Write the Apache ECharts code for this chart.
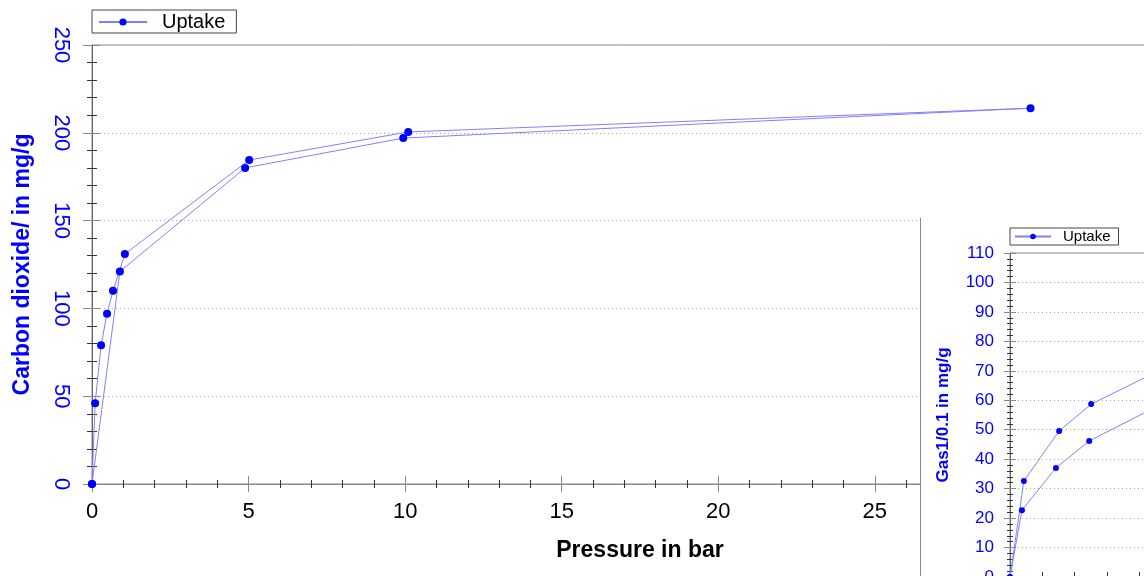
<!DOCTYPE html>
<html><head><meta charset="utf-8">
<script src="https://cdn.jsdelivr.net/npm/echarts@6/dist/echarts.min.js"></script>
<style>html,body{margin:0;padding:0;background:#fff}#c{width:1144px;height:576px}</style>
</head><body><div id="c"></div>
<script>
// ---- data ----
const seriesName = 'Uptake';
const mainPressure = [0, 0.1, 0.29, 0.48, 0.67, 1.05, 5.02, 10.1, 29.97, 9.94, 4.89, 0.89, 0];
const mainUptake   = [0, 46, 79, 97, 110, 131, 184.5, 200.5, 214, 197, 180, 121, 0];
const insetX = [0, 0.37, 1.42, 2.45, 4.6, 4.6, 2.51, 1.52, 0.43, 0];
const insetY = [0, 22.7, 37, 46.2, 58.2, 70, 58.7, 49.6, 32.6, 0];
const mainXTitle = 'Pressure in bar';
const mainYTitle = 'Carbon dioxide/ in mg/g';
const insetYTitle = 'Gas1/0.1 in mg/g';

const FONT = 'Liberation Sans, Arial, sans-serif';
const LINE = '#8080ff', DOT = '#0000ff', BLUE = '#0000ff';
const mainData = mainPressure.map((p, i) => [p, mainUptake[i]]);
const insetData = insetX.map((p, i) => [p, insetY[i]]);

const chart = echarts.init(document.getElementById('c'), null, {renderer: 'canvas'});
const tickCommon = (len, inside, minorLen) => ({
  axisTick: {show: true, inside, length: len, lineStyle: {color: '#888', width: 1}},
  minorTick: {show: true, splitNumber: 5, length: minorLen, lineStyle: {color: '#333', width: 1}}
});
const Z = 60;
chart.setOption({
  animation: false,
  textStyle: {fontFamily: FONT},
  graphic: [
    {type: 'rect', z: 50, shape: {x: 921, y: 218, width: 223, height: 358}, style: {fill: '#fff'}},
    {type: 'line', z: 51, shape: {x1: 920.5, y1: 218, x2: 920.5, y2: 576}, style: {stroke: '#888', lineWidth: 1}}
  ],
  legend: [
    {data: [seriesName], left: 92, top: 10, orient: 'horizontal', itemWidth: 48, itemHeight: 9,
     borderColor: '#444', borderWidth: 1, borderRadius: 0, padding: [2, 11, 1, 6], backgroundColor: '#fff',
     textStyle: {fontSize: 20, color: '#000', fontFamily: FONT, padding: [0, 0, 0, 10]}},
    {data: [seriesName], left: 1010, top: 228, orient: 'horizontal', itemWidth: 36, itemHeight: 7, z: Z,
     borderColor: '#444', borderWidth: 1, borderRadius: 0, padding: [1, 8, 1, 4], backgroundColor: '#fff',
     textStyle: {fontSize: 15, color: '#000', fontFamily: FONT, padding: [0, 0, 0, 7]}}
  ],
  grid: [
    {left: 92, top: 45, width: 1096, height: 439, show: true, borderColor: '#888', borderWidth: 1,
     backgroundColor: 'transparent', outerBoundsMode: 'none', containLabel: false},
    {left: 1010, top: 253, width: 194, height: 324, show: true, borderColor: '#888', borderWidth: 1,
     backgroundColor: 'transparent', z: Z, outerBoundsMode: 'none', containLabel: false}
  ],
  xAxis: [
    Object.assign({type: 'value', gridIndex: 0, position: 'bottom', min: 0, max: 35, interval: 5,
      axisLine: {show: true, lineStyle: {color: '#888'}},
      axisLabel: {color: '#000', fontSize: 22, margin: 17, fontFamily: FONT},
      splitLine: {show: false},
      name: mainXTitle, nameLocation: 'middle', nameGap: 55,
      nameTextStyle: {fontSize: 23, fontWeight: 'bold', color: '#000', fontFamily: FONT}}, tickCommon(8, false, 4)),
    Object.assign({type: 'value', gridIndex: 0, position: 'bottom', min: 0, max: 35, interval: 5,
      axisLine: {show: false}, axisLabel: {show: false}, splitLine: {show: false}}, tickCommon(8, true, 4)),
    Object.assign({type: 'value', gridIndex: 1, position: 'bottom', min: 0, max: 6, interval: 1, z: Z,
      axisLine: {show: true, lineStyle: {color: '#888'}},
      axisLabel: {color: '#000', fontSize: 15, fontFamily: FONT},
      splitLine: {show: false}}, {axisTick: {show: true, inside: true, length: 5, lineStyle: {color: '#333'}}, minorTick: {show: false}})
  ],
  yAxis: [
    Object.assign({type: 'value', gridIndex: 0, position: 'left', min: 0, max: 250, interval: 50,
      axisLine: {show: true, lineStyle: {color: '#666'}},
      axisLabel: {color: BLUE, fontSize: 22, rotate: -90, margin: 20, fontFamily: FONT},
      splitLine: {show: true, showMinLine: false, showMaxLine: false, lineStyle: {color: '#aaa', type: [1, 3]}},
      name: mainYTitle, nameLocation: 'middle', nameGap: 58,
      nameTextStyle: {fontSize: 23, fontWeight: 'bold', color: BLUE, fontFamily: FONT}}, tickCommon(9, false, 5)),
    Object.assign({type: 'value', gridIndex: 0, position: 'left', min: 0, max: 250, interval: 50,
      axisLine: {show: false}, axisLabel: {show: false}, splitLine: {show: false}}, tickCommon(8, true, 5)),
    Object.assign({type: 'value', gridIndex: 1, position: 'left', min: 0, max: 110, interval: 10, z: Z,
      axisLine: {show: true, lineStyle: {color: '#666'}},
      axisLabel: {color: BLUE, fontSize: 17, margin: 16, fontFamily: FONT},
      splitLine: {show: true, showMinLine: false, showMaxLine: false, lineStyle: {color: '#aaa', type: [1, 3]}},
      name: insetYTitle, nameLocation: 'middle', nameGap: 58,
      nameTextStyle: {fontSize: 17, fontWeight: 'bold', color: BLUE, fontFamily: FONT}}, tickCommon(6, false, 3)),
    Object.assign({type: 'value', gridIndex: 1, position: 'left', min: 0, max: 110, interval: 10, z: Z,
      axisLine: {show: false}, axisLabel: {show: false}, splitLine: {show: false}}, tickCommon(6, true, 3))
  ],
  series: [
    {name: seriesName, type: 'line', xAxisIndex: 0, yAxisIndex: 0, data: mainData,
     symbol: 'circle', symbolSize: 8, showAllSymbol: true, clip: false,
     lineStyle: {color: LINE, width: 1}, itemStyle: {color: DOT}},
    {name: seriesName, type: 'line', xAxisIndex: 2, yAxisIndex: 2, data: insetData, z: Z + 2,
     symbol: 'circle', symbolSize: 6, showAllSymbol: true, clip: true,
     lineStyle: {color: LINE, width: 1}, itemStyle: {color: DOT}}
  ]
});
</script></body></html>
